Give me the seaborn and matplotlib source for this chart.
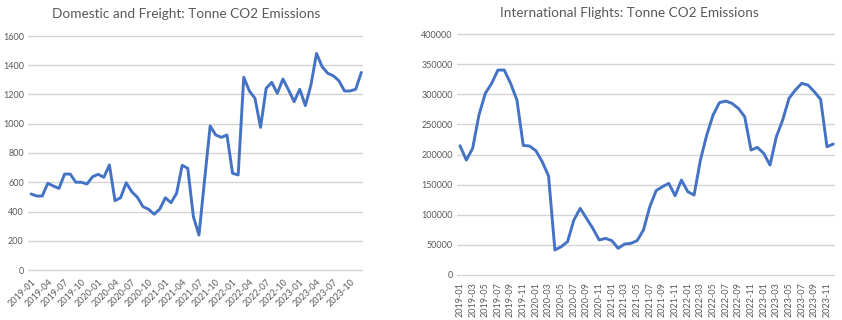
import matplotlib
matplotlib.use("Agg")
import matplotlib.pyplot as plt
import seaborn as sns
import pandas as pd

# ---- data ----
months = [f"{y}-{m:02d}" for y in range(2019, 2024) for m in range(1, 13)]

domestic_freight = [520, 506, 506, 593, 574, 558, 656, 656, 600, 600, 588, 638,
                    654, 634, 718, 474, 494, 597, 535, 497, 433, 415, 381, 417,
                    494, 460, 524, 716, 695, 365, 239, 615, 985, 923, 907, 923,
                    661, 650, 1318, 1224, 1174, 975, 1242, 1283, 1208, 1306, 1231, 1151,
                    1236, 1124, 1265, 1481, 1390, 1345, 1328, 1294, 1224, 1224, 1236, 1351]

international = [214600, 190800, 210200, 265500, 301400, 318000, 340150, 340150, 318000, 290400, 215150, 214000,
                 206300, 188000, 164300, 41500, 47000, 55300, 91260, 110600, 94000, 77400, 58100, 60800,
                 57000, 44250, 51400, 52500, 57000, 74700, 113400, 139900, 146600, 152100, 131600, 157600,
                 138300, 132700, 190800, 232300, 265500, 286000, 288700, 284800, 276500, 262700, 207400, 211800,
                 201900, 182500, 229500, 257200, 293100, 307000, 318000, 315300, 304200, 291500, 212900, 217400]

left_title = "Domestic and Freight: Tonne CO2 Emissions"
right_title = "International Flights: Tonne CO2 Emissions"
left_yticks = [0, 200, 400, 600, 800, 1000, 1200, 1400, 1600]
right_yticks = [0, 50000, 100000, 150000, 200000, 250000, 300000, 350000, 400000]

df = pd.DataFrame({"idx": range(len(months)), "month": months,
                   "dom": domestic_freight, "intl": international})

# ---- style ----
sns.set_theme(style="white")
plt.rcParams["font.family"] = ["Lato", "DejaVu Sans"]

LINE = "#4472C4"
GRID = "#D4D4D4"
TXT = "#595959"

W, H = 842, 320
fig = plt.figure(figsize=(W / 100, H / 100), dpi=100)

def ax_rect(x0, x1, ytop, ybot):
    return [x0 / W, 1 - ybot / H, (x1 - x0) / W, (ybot - ytop) / H]

# left axes: gridline 0 at y=270, 1600 at y=36 -> pad
lpad = 20
lppu = (270 - 36) / 1600
axL = fig.add_axes(ax_rect(28, 363, 36 - lpad * lppu, 270 + lpad * lppu))
sns.lineplot(data=df, x="idx", y="dom", ax=axL, color=LINE, linewidth=2.1)
axL.set_xlim(-0.54, 59.3)
axL.set_ylim(-lpad, 1600 + lpad)
axL.set_yticks(left_yticks)
axL.set_yticklabels([str(v) for v in left_yticks])
lx = list(range(0, len(months), 3))
axL.set_xticks(lx)
axL.set_xticklabels([months[i] for i in lx], rotation=45, ha="right",
                    rotation_mode="anchor")

# right axes
rpad = 5000
rppu = (275 - 34) / 400000
axR = fig.add_axes(ax_rect(457, 835, 34 - rpad * rppu, 275 + rpad * rppu))
sns.lineplot(data=df, x="idx", y="intl", ax=axR, color=LINE, linewidth=2.1)
axR.set_xlim(-0.47, 59.27)
axR.set_ylim(-rpad, 400000 + rpad)
axR.set_yticks(right_yticks)
axR.set_yticklabels([str(v) for v in right_yticks])
rx = list(range(0, len(months), 2))
axR.set_xticks(rx)
axR.set_xticklabels([months[i] for i in rx], rotation=90, ha="center")

for ax in (axL, axR):
    ax.set_xlabel("")
    ax.set_ylabel("")
    for s in ax.spines.values():
        s.set_visible(False)
    ax.grid(axis="y", color=GRID, linewidth=1.0)
    ax.grid(axis="x", visible=False)
    ax.set_axisbelow(True)
    ax.tick_params(axis="both", length=0, colors=TXT, labelsize=6.5, pad=3)
    ax.patch.set_alpha(0)

fig.text(186 / W, 1 - 14 / H, left_title, ha="center", va="center",
         fontsize=9.8, color=TXT)
fig.text(629 / W, 1 - 13 / H, right_title, ha="center", va="center",
         fontsize=9.8, color=TXT)

fig.savefig("out.png", dpi=100, facecolor="white")
